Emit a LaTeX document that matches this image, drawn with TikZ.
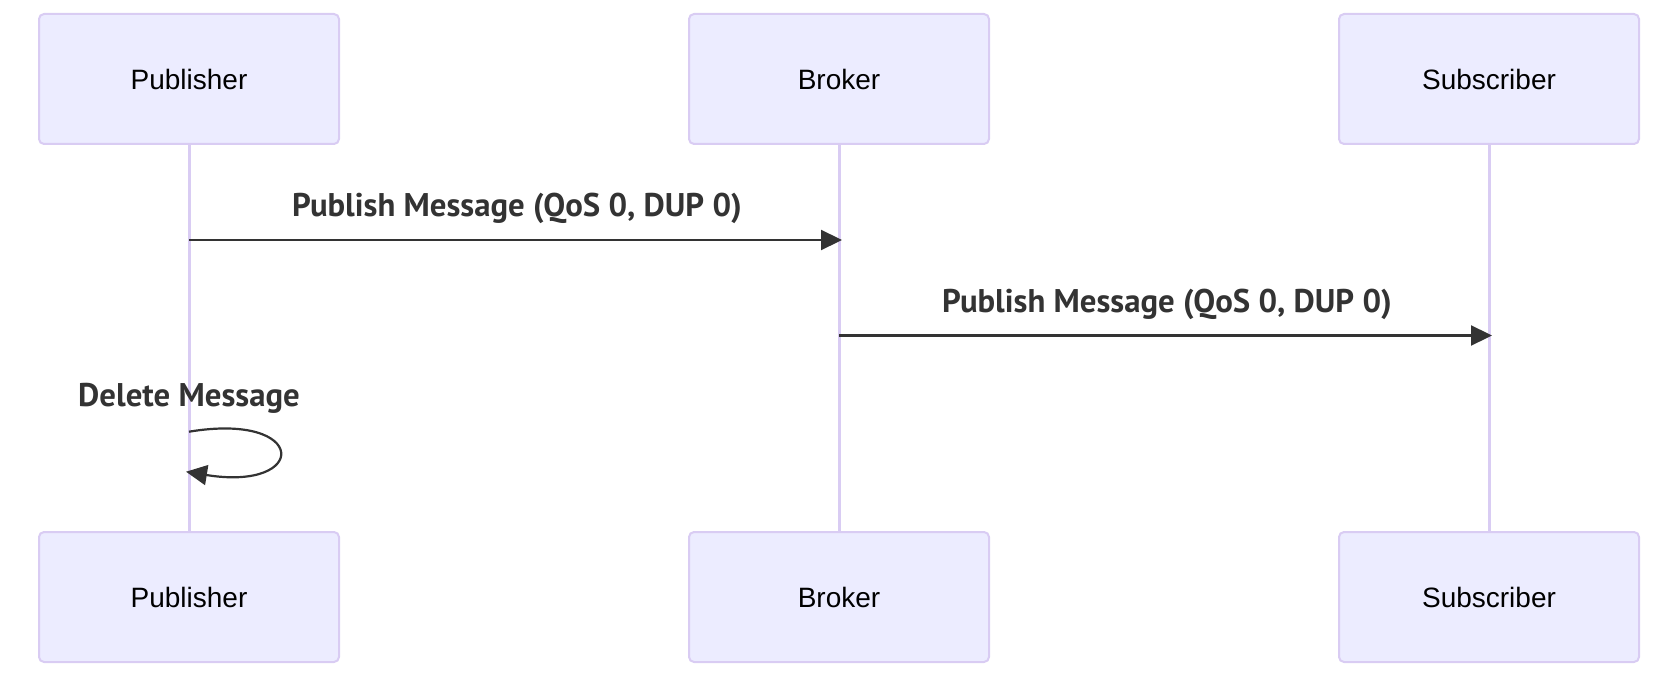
\documentclass[tikz,border=0pt]{standalone}
\usepackage{fontspec}
\setmainfont{Liberation Sans}
\newfontfamily\msgfont{PT Sans}
\usetikzlibrary{arrows.meta}
\definecolor{actorfill}{HTML}{ECECFF}
\definecolor{actorline}{HTML}{D9CCF3}
\definecolor{msgcol}{HTML}{333333}
\begin{document}
\begin{tikzpicture}[x=1pt,y=1pt,
  actor/.style={draw=actorline, fill=actorfill, line width=2pt, rounded corners=5pt,
    minimum width=300pt, minimum height=130pt, inner sep=0pt,
    font=\fontsize{28}{33}\selectfont, text=black},
  lifeline/.style={draw=actorline, line width=3pt},
  msg/.style={draw=msgcol, line width=2.2pt, -{Triangle[length=21pt,width=20pt]}},
  msglabel/.style={anchor=base, inner sep=0pt, text=msgcol,
    font=\msgfont\bfseries\fontsize{32.8}{39}\selectfont}]
\useasboundingbox (0,0) rectangle (1670,-682);
% actors
\node[actor] (pt) at (189,-79) {Publisher};
\node[actor] (bt) at (839,-79) {Broker};
\node[actor] (st) at (1489,-79) {Subscriber};
\node[actor] (pb) at (189,-597) {Publisher};
\node[actor] (bb) at (839,-597) {Broker};
\node[actor] (sb) at (1489,-597) {Subscriber};
% lifelines
\draw[lifeline] (pt.south) -- (pb.north);
\draw[lifeline] (bt.south) -- (bb.north);
\draw[lifeline] (st.south) -- (sb.north);
% message points
\coordinate (m1s) at (189,-240);
\coordinate (m1e) at (842,-240);
\coordinate (m2s) at (839,-335.5);
\coordinate (m2e) at (1492,-335.5);
\coordinate (m3s) at (189,-431.7);
\coordinate (m3e) at (186,-471.7);
% messages
\draw[msg] (m1s) -- (m1e);
\node[msglabel] (l1) at (517,-216.7) {Publish Message (QoS 0, DUP 0)};
\draw[msg] (m2s) -- (m2e);
\node[msglabel] (l2) at (1167,-312) {Publish Message (QoS 0, DUP 0)};
\draw[msg] (m3s) .. controls (309,-411.7) and (309,-491.7) .. (m3e);
\node[msglabel] (l3) at (189,-406.7) {Delete Message};
\end{tikzpicture}
\end{document}
